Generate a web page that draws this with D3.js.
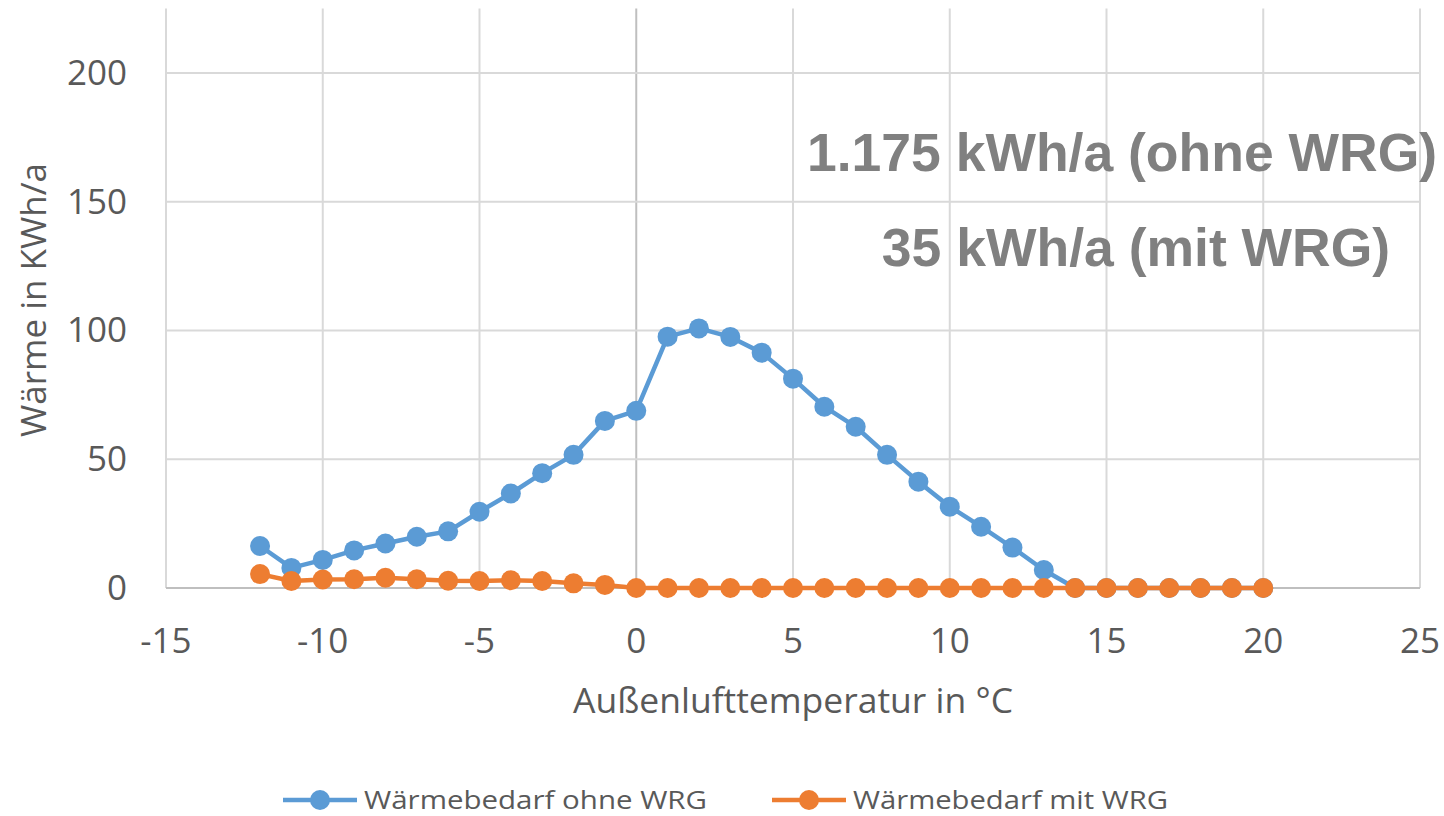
<!DOCTYPE html>
<html><head><meta charset="utf-8">
<script src="https://cdn.jsdelivr.net/npm/d3@7"></script>
<style>body{margin:0;background:#fff}svg{display:block}</style>
</head><body>
<svg id="c" width="1444" height="816"></svg>
<script>
const temps = [-12,-11,-10,-9,-8,-7,-6,-5,-4,-3,-2,-1,0,1,2,3,4,5,6,7,8,9,10,11,12,13,14,15,16,17,18,19,20];
const ohneWRG = [16.3,7.8,10.9,14.6,17.3,19.9,22.0,29.6,36.7,44.6,51.7,64.9,68.8,97.6,100.8,97.5,91.4,81.3,70.4,62.6,51.7,41.3,31.6,23.8,15.7,7.0,0,0,0,0,0,0,0];
const mitWRG = [5.4,2.7,3.3,3.4,4.0,3.4,2.8,2.7,3.0,2.7,1.8,1.2,0,0,0,0,0,0,0,0,0,0,0,0,0,0,0,0,0,0,0,0,0];
const xTicks = [-15,-10,-5,0,5,10,15,20,25];
const yTicks = [0,50,100,150,200];
const seriesNames = ["Wärmebedarf ohne WRG","Wärmebedarf mit WRG"];
const seriesColors = ["#5B9BD5","#ED7D31"];
const annot = ["1.175 kWh/a (ohne WRG)","35 kWh/a (mit WRG)"];

const svg = d3.select("#c");
const x = d3.scaleLinear().domain([-15,25]).range([166,1420]);
const y = d3.scaleLinear().domain([0,225]).range([588,8.6]);
const font = "'Open Sans', sans-serif";
const txt = "#595959";

// grid
svg.append("g").selectAll("line").data(xTicks).join("line")
  .attr("x1",d=>x(d)).attr("x2",d=>x(d)).attr("y1",y(225)).attr("y2",y(0))
  .attr("stroke",d=>d===0?"#bfbfbf":"#d9d9d9").attr("stroke-width",2);
svg.append("g").selectAll("line").data(yTicks).join("line")
  .attr("x1",x(-15)).attr("x2",x(25)).attr("y1",d=>y(d)).attr("y2",d=>y(d))
  .attr("stroke",d=>d===0?"#bfbfbf":"#d9d9d9").attr("stroke-width",2);

// tick labels
svg.append("g").selectAll("text").data(yTicks).join("text")
  .attr("x",127).attr("y",d=>y(d)+12).attr("text-anchor","end")
  .attr("font-family",font).attr("font-size",35).attr("fill",txt).text(d=>d);
svg.append("g").selectAll("text").data(xTicks).join("text")
  .attr("x",d=>x(d)).attr("y",653).attr("text-anchor","middle")
  .attr("font-family",font).attr("font-size",35).attr("fill",txt).text(d=>d);

// axis titles
svg.append("text").attr("x",793).attr("y",713).attr("text-anchor","middle")
  .attr("font-family",font).attr("font-size",35).attr("fill",txt)
  .attr("textLength",440).attr("lengthAdjust","spacingAndGlyphs")
  .text("Außenlufttemperatur in °C");
svg.append("text").attr("transform","translate(46,300) rotate(-90)").attr("text-anchor","middle")
  .attr("font-family",font).attr("font-size",35).attr("fill",txt)
  .text("Wärme in KWh/a");

// series
const data = [ohneWRG, mitWRG];
const line = d3.line().x((d,i)=>x(temps[i])).y(d=>y(d));
data.forEach((vals,si)=>{
  const g = svg.append("g");
  g.append("path").datum(vals).attr("d",line).attr("fill","none")
    .attr("stroke",seriesColors[si]).attr("stroke-width",4.5).attr("stroke-linejoin","round");
  g.selectAll("circle").data(vals).join("circle")
    .attr("cx",(d,i)=>x(temps[i])).attr("cy",d=>y(d)).attr("r",10)
    .attr("fill",seriesColors[si]);
});

// annotations
svg.append("text").attr("x",1122).attr("y",171).attr("text-anchor","middle")
  .attr("font-family","'Liberation Sans', Arial, sans-serif").attr("font-weight","bold")
  .attr("font-size",53.5).attr("fill","#808080").text(annot[0]);
svg.append("text").attr("x",1136).attr("y",266).attr("text-anchor","middle")
  .attr("font-family","'Liberation Sans', Arial, sans-serif").attr("font-weight","bold")
  .attr("font-size",53.5).attr("fill","#808080").text(annot[1]);

// legend
const legX = [283,772], legLen=[343,315];
seriesNames.forEach((n,i)=>{
  const g = svg.append("g");
  g.append("line").attr("x1",legX[i]).attr("x2",legX[i]+74).attr("y1",800).attr("y2",800)
    .attr("stroke",seriesColors[i]).attr("stroke-width",4.5);
  g.append("circle").attr("cx",legX[i]+37).attr("cy",800).attr("r",10).attr("fill",seriesColors[i]);
  g.append("text").attr("x",legX[i]+81).attr("y",809).attr("font-family",font).attr("font-size",26)
    .attr("fill",txt).attr("textLength",legLen[i]).attr("lengthAdjust","spacingAndGlyphs").text(n);
});
</script>
</body></html>
